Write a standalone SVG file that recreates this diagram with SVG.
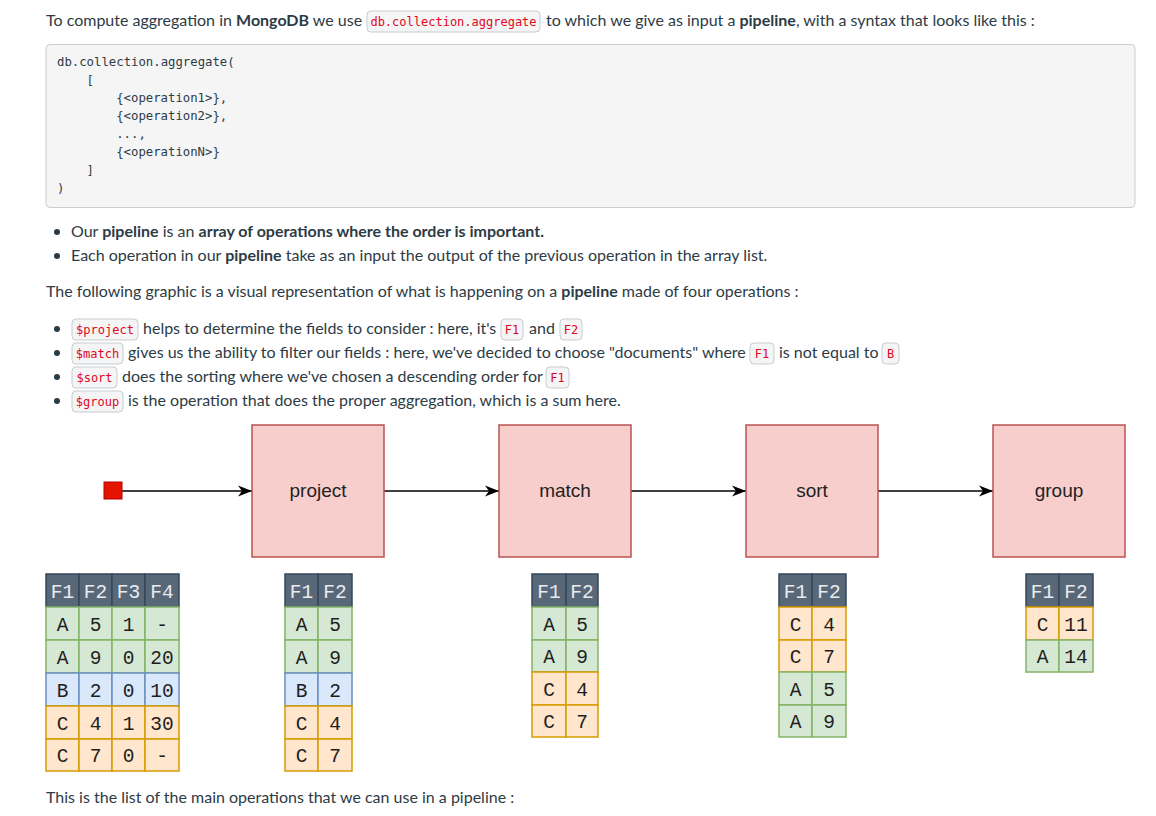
<svg xmlns="http://www.w3.org/2000/svg" width="1156" height="816" viewBox="0 0 1156 816">
<defs>
<style>
.t{font-family:Lato,"Open Sans","Liberation Sans",sans-serif;font-size:16px;fill:#2d3b45}
.b{font-weight:bold}
.c{font-family:"DejaVu Sans Mono","Liberation Mono",monospace;font-size:12px;fill:#e0061f;text-anchor:middle}
.cb{fill:#f5f5f5;stroke:#c7cdd1;stroke-width:1}
.pre{font-family:"DejaVu Sans Mono","Liberation Mono",monospace;font-size:12.3px;fill:#2d3b45}
.node{fill:#f8cecc;stroke:#b85450;stroke-width:1.5}
.nl{font-family:"Liberation Sans",Arial,sans-serif;font-size:19px;fill:#222;text-anchor:middle}
.hd{fill:#586879;stroke:#34475a;stroke-width:1.5}
.g{fill:#d5e8d4;stroke:#82b366;stroke-width:1.5}
.bl{fill:#dae8fc;stroke:#6c8ebf;stroke-width:1.5}
.o{fill:#ffe6cc;stroke:#d79b00;stroke-width:1.5}
.ct{font-family:"Liberation Mono","DejaVu Sans Mono",monospace;font-size:19.5px;text-anchor:middle;fill:#1e1e1e}
.ht{fill:#e8ecef}
.edge{stroke:#000;stroke-width:1.5;fill:none}
</style>
<marker id="arr" markerWidth="15" markerHeight="12" refX="14" refY="6" orient="auto" markerUnits="userSpaceOnUse">
<path d="M0,0.5 L14,6 L0,11.5 L4,6 Z" fill="#000"/>
</marker>
</defs>
<rect width="1156" height="816" fill="#fff"/>

<g id="intro">
<text class="t" x="46" y="26">To compute aggregation in <tspan class="b">MongoDB</tspan> we use</text>
<rect class="cb" x="367" y="11" width="173" height="21" rx="4"/>
<text class="c" x="453.5" y="26">db.collection.aggregate</text>
<text class="t" x="546" y="26">to which we give as input a <tspan class="b">pipeline</tspan>, with a syntax that looks like this :</text>
</g>

<g id="code-block">
<rect x="46" y="44.5" width="1089" height="163" rx="4" fill="#f5f5f5" stroke="#c7cdd1"/>
<text class="pre" x="57" y="66">db.collection.aggregate(</text>
<text class="pre" x="86.6" y="84">[</text>
<text class="pre" x="116.2" y="102">{&lt;operation1&gt;},</text>
<text class="pre" x="116.2" y="120">{&lt;operation2&gt;},</text>
<text class="pre" x="116.2" y="138">...,</text>
<text class="pre" x="116.2" y="156">{&lt;operationN&gt;}</text>
<text class="pre" x="86.6" y="174">]</text>
<text class="pre" x="57" y="192">)</text>
</g>

<g id="bullets-1">
<circle cx="57" cy="232" r="3" fill="#2d3b45"/>
<text class="t" x="71" y="237">Our <tspan class="b">pipeline</tspan> is an <tspan class="b">array of operations where the order is important.</tspan></text>
<circle cx="57" cy="256" r="3" fill="#2d3b45"/>
<text class="t" x="71" y="261">Each operation in our <tspan class="b">pipeline</tspan> take as an input the output of the previous operation in the array list.</text>
<text class="t" x="46" y="297">The following graphic is a visual representation of what is happening on a <tspan class="b">pipeline</tspan> made of four operations :</text>
</g>

<g id="bullets-2">
<circle cx="57" cy="329" r="3" fill="#2d3b45"/>
<rect class="cb" x="72" y="319" width="66" height="21" rx="4"/>
<text class="c" x="105" y="334">$project</text>
<text class="t" x="143" y="334">helps to determine the fields to consider : here, it's</text>
<rect class="cb" x="501" y="319" width="22" height="21" rx="4"/>
<text class="c" x="512" y="334">F1</text>
<text class="t" x="529" y="334">and</text>
<rect class="cb" x="560" y="319" width="22" height="21" rx="4"/>
<text class="c" x="571" y="334">F2</text>

<circle cx="57" cy="353" r="3" fill="#2d3b45"/>
<rect class="cb" x="72" y="343" width="51" height="21" rx="4"/>
<text class="c" x="97.5" y="358">$match</text>
<text class="t" x="128" y="358">gives us the ability to filter our fields : here, we've decided to choose "documents" where</text>
<rect class="cb" x="750" y="343" width="24" height="21" rx="4"/>
<text class="c" x="762" y="358">F1</text>
<text class="t" x="779" y="358">is not equal to</text>
<rect class="cb" x="882" y="343" width="17" height="21" rx="4"/>
<text class="c" x="890.5" y="358">B</text>

<circle cx="57" cy="377" r="3" fill="#2d3b45"/>
<rect class="cb" x="72" y="367" width="45" height="21" rx="4"/>
<text class="c" x="94.5" y="382">$sort</text>
<text class="t" x="122" y="382">does the sorting where we've chosen a descending order for</text>
<rect class="cb" x="546" y="367" width="23" height="21" rx="4"/>
<text class="c" x="557.5" y="382">F1</text>

<circle cx="57" cy="401" r="3" fill="#2d3b45"/>
<rect class="cb" x="72" y="391" width="51" height="21" rx="4"/>
<text class="c" x="97.5" y="406">$group</text>
<text class="t" x="128" y="406">is the operation that does the proper aggregation, which is a sum here.</text>
</g>

<g id="connectors">
<line class="edge" x1="122" y1="491" x2="252" y2="491" marker-end="url(#arr)"/>
<line class="edge" x1="384" y1="491" x2="499" y2="491" marker-end="url(#arr)"/>
<line class="edge" x1="631" y1="491" x2="746" y2="491" marker-end="url(#arr)"/>
<line class="edge" x1="878" y1="491" x2="993" y2="491" marker-end="url(#arr)"/>
</g>

<g id="start">
<rect x="104" y="482" width="18" height="17" fill="#e51400" stroke="#b20000"/>
</g>
<g id="project">
<rect class="node" x="252" y="425" width="132" height="132"/>
<text class="nl" x="318" y="497">project</text>
</g>
<g id="match">
<rect class="node" x="499" y="425" width="132" height="132"/>
<text class="nl" x="565" y="497">match</text>
</g>
<g id="sort">
<rect class="node" x="746" y="425" width="132" height="132"/>
<text class="nl" x="812" y="497">sort</text>
</g>
<g id="group">
<rect class="node" x="993" y="425" width="132" height="132"/>
<text class="nl" x="1059" y="497">group</text>
</g>

<g id="table-input">
<rect class="hd" x="46" y="574" width="33" height="33"/><rect class="hd" x="79" y="574" width="33" height="33"/><rect class="hd" x="112" y="574" width="33" height="33"/><rect class="hd" x="145" y="574" width="34" height="33"/>
<rect class="g" x="46" y="607" width="33" height="33"/><rect class="g" x="79" y="607" width="33" height="33"/><rect class="g" x="112" y="607" width="33" height="33"/><rect class="g" x="145" y="607" width="34" height="33"/>
<rect class="g" x="46" y="640" width="33" height="33"/><rect class="g" x="79" y="640" width="33" height="33"/><rect class="g" x="112" y="640" width="33" height="33"/><rect class="g" x="145" y="640" width="34" height="33"/>
<rect class="bl" x="46" y="673" width="33" height="33"/><rect class="bl" x="79" y="673" width="33" height="33"/><rect class="bl" x="112" y="673" width="33" height="33"/><rect class="bl" x="145" y="673" width="34" height="33"/>
<rect class="o" x="46" y="706" width="33" height="33"/><rect class="o" x="79" y="706" width="33" height="33"/><rect class="o" x="112" y="706" width="33" height="33"/><rect class="o" x="145" y="706" width="34" height="33"/>
<rect class="o" x="46" y="739" width="33" height="32"/><rect class="o" x="79" y="739" width="33" height="32"/><rect class="o" x="112" y="739" width="33" height="32"/><rect class="o" x="145" y="739" width="34" height="32"/>
<text class="ct ht" x="62.5" y="597.5">F1</text><text class="ct ht" x="95.5" y="597.5">F2</text><text class="ct ht" x="128.5" y="597.5">F3</text><text class="ct ht" x="162" y="597.5">F4</text>
<text class="ct" x="62.5" y="630.5">A</text><text class="ct" x="95.5" y="630.5">5</text><text class="ct" x="128.5" y="630.5">1</text><text class="ct" x="162" y="630.5">-</text>
<text class="ct" x="62.5" y="663.5">A</text><text class="ct" x="95.5" y="663.5">9</text><text class="ct" x="128.5" y="663.5">0</text><text class="ct" x="162" y="663.5">20</text>
<text class="ct" x="62.5" y="696.5">B</text><text class="ct" x="95.5" y="696.5">2</text><text class="ct" x="128.5" y="696.5">0</text><text class="ct" x="162" y="696.5">10</text>
<text class="ct" x="62.5" y="729.5">C</text><text class="ct" x="95.5" y="729.5">4</text><text class="ct" x="128.5" y="729.5">1</text><text class="ct" x="162" y="729.5">30</text>
<text class="ct" x="62.5" y="762">C</text><text class="ct" x="95.5" y="762">7</text><text class="ct" x="128.5" y="762">0</text><text class="ct" x="162" y="762">-</text>
</g>

<g id="table-project">
<rect class="hd" x="285" y="574" width="33" height="33"/><rect class="hd" x="318" y="574" width="34" height="33"/>
<rect class="g" x="285" y="607" width="33" height="33"/><rect class="g" x="318" y="607" width="34" height="33"/>
<rect class="g" x="285" y="640" width="33" height="33"/><rect class="g" x="318" y="640" width="34" height="33"/>
<rect class="bl" x="285" y="673" width="33" height="33"/><rect class="bl" x="318" y="673" width="34" height="33"/>
<rect class="o" x="285" y="706" width="33" height="33"/><rect class="o" x="318" y="706" width="34" height="33"/>
<rect class="o" x="285" y="739" width="33" height="32"/><rect class="o" x="318" y="739" width="34" height="32"/>
<text class="ct ht" x="301.5" y="597.5">F1</text><text class="ct ht" x="335" y="597.5">F2</text>
<text class="ct" x="301.5" y="630.5">A</text><text class="ct" x="335" y="630.5">5</text>
<text class="ct" x="301.5" y="663.5">A</text><text class="ct" x="335" y="663.5">9</text>
<text class="ct" x="301.5" y="696.5">B</text><text class="ct" x="335" y="696.5">2</text>
<text class="ct" x="301.5" y="729.5">C</text><text class="ct" x="335" y="729.5">4</text>
<text class="ct" x="301.5" y="762">C</text><text class="ct" x="335" y="762">7</text>
</g>

<g id="table-match">
<rect class="hd" x="532" y="574" width="34" height="33"/><rect class="hd" x="566" y="574" width="32" height="33"/>
<rect class="g" x="532" y="607" width="34" height="33"/><rect class="g" x="566" y="607" width="32" height="33"/>
<rect class="g" x="532" y="640" width="34" height="32"/><rect class="g" x="566" y="640" width="32" height="32"/>
<rect class="o" x="532" y="672" width="34" height="33"/><rect class="o" x="566" y="672" width="32" height="33"/>
<rect class="o" x="532" y="705" width="34" height="32"/><rect class="o" x="566" y="705" width="32" height="32"/>
<text class="ct ht" x="549" y="597.5">F1</text><text class="ct ht" x="582" y="597.5">F2</text>
<text class="ct" x="549" y="630.5">A</text><text class="ct" x="582" y="630.5">5</text>
<text class="ct" x="549" y="663">A</text><text class="ct" x="582" y="663">9</text>
<text class="ct" x="549" y="695.5">C</text><text class="ct" x="582" y="695.5">4</text>
<text class="ct" x="549" y="728">C</text><text class="ct" x="582" y="728">7</text>
</g>

<g id="table-sort">
<rect class="hd" x="779" y="574" width="33" height="33"/><rect class="hd" x="812" y="574" width="34" height="33"/>
<rect class="o" x="779" y="607" width="33" height="33"/><rect class="o" x="812" y="607" width="34" height="33"/>
<rect class="o" x="779" y="640" width="33" height="32"/><rect class="o" x="812" y="640" width="34" height="32"/>
<rect class="g" x="779" y="672" width="33" height="33"/><rect class="g" x="812" y="672" width="34" height="33"/>
<rect class="g" x="779" y="705" width="33" height="32"/><rect class="g" x="812" y="705" width="34" height="32"/>
<text class="ct ht" x="795.5" y="597.5">F1</text><text class="ct ht" x="829" y="597.5">F2</text>
<text class="ct" x="795.5" y="630.5">C</text><text class="ct" x="829" y="630.5">4</text>
<text class="ct" x="795.5" y="663">C</text><text class="ct" x="829" y="663">7</text>
<text class="ct" x="795.5" y="695.5">A</text><text class="ct" x="829" y="695.5">5</text>
<text class="ct" x="795.5" y="728">A</text><text class="ct" x="829" y="728">9</text>
</g>

<g id="table-group">
<rect class="hd" x="1026" y="574" width="33" height="33"/><rect class="hd" x="1059" y="574" width="34" height="33"/>
<rect class="o" x="1026" y="607" width="33" height="33"/><rect class="o" x="1059" y="607" width="34" height="33"/>
<rect class="g" x="1026" y="640" width="33" height="32"/><rect class="g" x="1059" y="640" width="34" height="32"/>
<text class="ct ht" x="1042.5" y="597.5">F1</text><text class="ct ht" x="1076" y="597.5">F2</text>
<text class="ct" x="1042.5" y="630.5">C</text><text class="ct" x="1076" y="630.5">11</text>
<text class="ct" x="1042.5" y="663">A</text><text class="ct" x="1076" y="663">14</text>
</g>

<g id="outro">
<text class="t" x="46" y="803">This is the list of the main operations that we can use in a pipeline :</text>
</g>
</svg>
